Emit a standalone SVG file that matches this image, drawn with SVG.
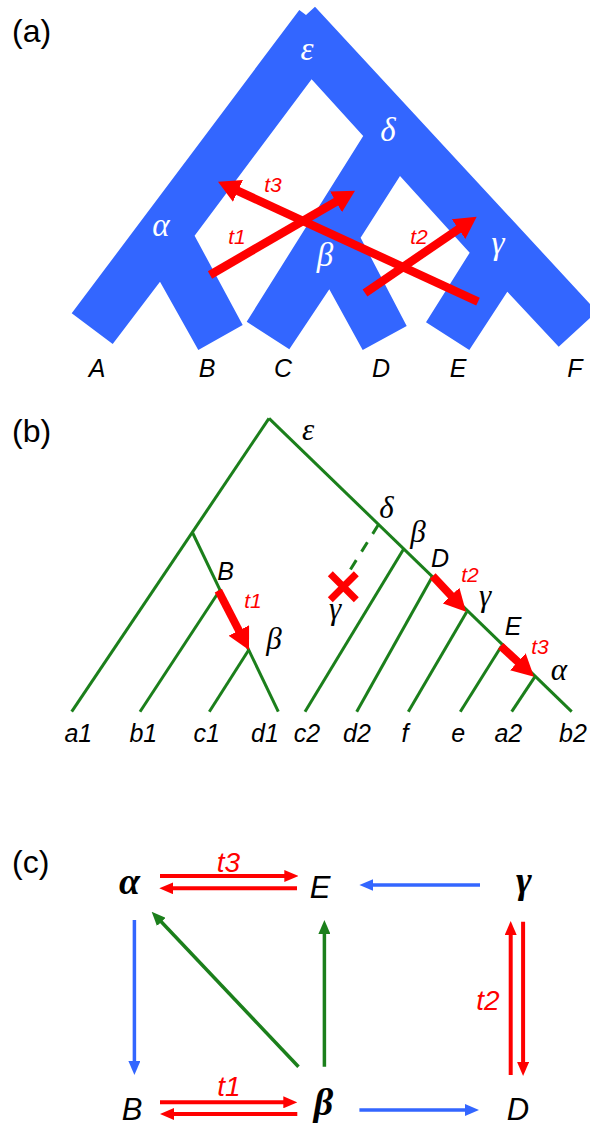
<svg xmlns="http://www.w3.org/2000/svg" width="590" height="1125" viewBox="0 0 590 1125">
<defs>
<marker id="hA" markerUnits="userSpaceOnUse" markerWidth="22" markerHeight="24" refX="2" refY="12" orient="auto"><path d="M0,0 L22,12 L0,24 z" fill="#ff0000"/></marker>
<marker id="hB" markerUnits="userSpaceOnUse" markerWidth="22" markerHeight="23" refX="2" refY="11.5" orient="auto"><path d="M0,0 L22,11.5 L0,23 z" fill="#ff0000"/></marker>
<marker id="hR" markerUnits="userSpaceOnUse" markerWidth="14" markerHeight="12" refX="7" refY="6" orient="auto"><path d="M0,0 L14,6 L0,12 z" fill="#ff0000"/></marker>
<marker id="hBl" markerUnits="userSpaceOnUse" markerWidth="14" markerHeight="12" refX="7" refY="6" orient="auto"><path d="M0,0 L14,6 L0,12 z" fill="#3366ff"/></marker>
<marker id="hG" markerUnits="userSpaceOnUse" markerWidth="14" markerHeight="12" refX="7" refY="6" orient="auto"><path d="M0,0 L14,6 L0,12 z" fill="#1b7f1b"/></marker>
</defs>
<style>
.panel{font-family:"Liberation Sans",Arial,sans-serif;font-size:32px;fill:#000}
.leaf{font-family:"Liberation Sans",Arial,sans-serif;font-style:italic;font-size:25px;fill:#000;text-anchor:middle}
.gw{font-family:"Liberation Serif","Times New Roman",serif;font-style:italic;font-size:33px;fill:#fff;text-anchor:middle}
.gk{font-family:"Liberation Serif","Times New Roman",serif;font-style:italic;font-size:31px;fill:#000;text-anchor:middle}
.gc{font-family:"Liberation Serif","Times New Roman",serif;font-style:italic;font-weight:bold;font-size:38px;fill:#000;text-anchor:middle}
.lc{font-family:"Liberation Sans",Arial,sans-serif;font-style:italic;font-size:31px;fill:#000;text-anchor:middle}
.tr{font-family:"Liberation Sans",Arial,sans-serif;font-style:italic;fill:#ff0000;text-anchor:middle}
.ra{stroke:#ff0000;stroke-width:8.5;fill:none}
.rb{stroke:#ff0000;stroke-width:8;fill:none}
.br{stroke:#1b7f1b;stroke-width:3;fill:none}
.cr{stroke:#ff0000;stroke-width:4;fill:none;marker-end:url(#hR)}
.cb{stroke:#3366ff;stroke-width:3.5;fill:none;marker-end:url(#hBl)}
.cg{stroke:#1b7f1b;stroke-width:3.5;fill:none;marker-end:url(#hG)}
</style>
<rect width="590" height="1125" fill="#ffffff"/>

<!-- Panel (a) -->
<text class="panel" x="12" y="42">(a)</text>
<g id="a-tree">
<polygon fill="#3366ff" points="299.3,10 306,15 315,6.7 597,311.5 558.7,346.7 507.3,291.7 469.3,350 426,322.3 469.7,252.7 400,176 360.6,237.7 406.7,326 362.7,350 329.3,289.3 289.3,349.3 246.7,321.7 363.2,136 311.6,79.3 194.6,235.7 242.7,325 198.3,350 160,281.7 112.7,344 71.7,313.3"/>
</g>
<g id="a-nodes">
<g id="a-eps"><text class="gw" x="307" y="60" font-size="38">ε</text></g>
<g id="a-delta"><text class="gw" x="388" y="141">δ</text></g>
<g id="a-alpha"><text class="gw" x="161" y="236">α</text></g>
<g id="a-beta"><text class="gw" x="325" y="266">β</text></g>
<g id="a-gamma"><text class="gw" x="498" y="254">γ</text></g>
<g id="a-A"><text class="leaf" x="97" y="377">A</text></g>
<g id="a-B"><text class="leaf" x="207" y="377">B</text></g>
<g id="a-C"><text class="leaf" x="283" y="377">C</text></g>
<g id="a-D"><text class="leaf" x="381" y="377">D</text></g>
<g id="a-E"><text class="leaf" x="458" y="377">E</text></g>
<g id="a-F"><text class="leaf" x="575" y="377">F</text></g>
</g>
<g id="a-connectors">
<line class="ra" x1="210" y1="275" x2="337.7" y2="200.76" marker-end="url(#hA)"/>
<line class="ra" x1="478" y1="301.7" x2="236.16" y2="190.08" marker-end="url(#hA)"/>
<line class="ra" x1="365" y1="293" x2="460.18" y2="227.98" marker-end="url(#hA)"/>
<text class="tr" x="237" y="244" font-size="21">t1</text>
<text class="tr" x="419" y="244" font-size="21">t2</text>
<text class="tr" x="273" y="192" font-size="21">t3</text>
</g>

<!-- Panel (b) -->
<text class="panel" x="12" y="441.5">(b)</text>
<g id="b-connectors">
<line class="br" x1="269" y1="418.3" x2="71.7" y2="711.7"/>
<line class="br" x1="269" y1="418.3" x2="571.7" y2="711.7"/>
<line class="br" x1="192.7" y1="533" x2="278.3" y2="711.7"/>
<line class="br" x1="219.5" y1="590.7" x2="140" y2="711.7"/>
<line class="br" x1="248.7" y1="650" x2="209.3" y2="711.7"/>
<line class="br" x1="403.5" y1="549.3" x2="305" y2="711.7"/>
<line class="br" x1="432.7" y1="576" x2="356.7" y2="711.7"/>
<line class="br" x1="466.8" y1="611.7" x2="408.3" y2="711.7"/>
<line class="br" x1="501.5" y1="646" x2="460.3" y2="711.7"/>
<line class="br" x1="535" y1="676.7" x2="511.7" y2="711.7"/>
<line class="br" x1="378.5" y1="524.5" x2="347" y2="575" stroke-dasharray="11 10"/>
<line class="rb" x1="218.3" y1="590.7" x2="239.8" y2="632.24" marker-end="url(#hB)"/>
<line class="rb" x1="432.7" y1="576" x2="452.36" y2="597.08" marker-end="url(#hB)"/>
<line class="rb" x1="500.7" y1="646" x2="519.3" y2="663.14" marker-end="url(#hB)"/>
<text class="tr" x="253" y="607.5" font-size="21">t1</text>
<text class="tr" x="470" y="582" font-size="21">t2</text>
<text class="tr" x="540" y="653.5" font-size="21">t3</text>
</g>
<g id="b-nodes">
<g id="b-eps"><text class="gk" x="308" y="440" font-size="34">ε</text></g>
<g id="b-delta"><text class="gk" x="386.5" y="518">δ</text></g>
<g id="b-beta2"><text class="gk" x="418" y="542">β</text></g>
<g id="b-D"><text class="leaf" x="440" y="566.5">D</text></g>
<g id="b-gamma2"><text class="gk" x="485" y="606">γ</text></g>
<g id="b-E"><text class="leaf" x="513" y="635">E</text></g>
<g id="b-alpha"><text class="gk" x="559" y="680" font-size="24">α</text></g>
<g id="b-B"><text class="leaf" x="225.5" y="580">B</text></g>
<g id="b-beta1"><text class="gk" x="274" y="649" font-size="27">β</text></g>
<g id="b-lost">
<path d="M330.3,573.7 L356.3,599.7 M356.3,573.7 L330.3,599.7" stroke="#ff0000" stroke-width="7" fill="none"/>
<text class="gk" x="335" y="619" font-size="27">γ</text>
</g>
<g id="b-a1"><text class="leaf" x="78.3" y="741.7">a1</text></g>
<g id="b-b1"><text class="leaf" x="143.3" y="741.7">b1</text></g>
<g id="b-c1"><text class="leaf" x="206.7" y="741.7">c1</text></g>
<g id="b-d1"><text class="leaf" x="265" y="741.7">d1</text></g>
<g id="b-c2"><text class="leaf" x="307" y="741.7">c2</text></g>
<g id="b-d2"><text class="leaf" x="357" y="741.7">d2</text></g>
<g id="b-f"><text class="leaf" x="405" y="741.7">f</text></g>
<g id="b-e"><text class="leaf" x="458.3" y="741.7">e</text></g>
<g id="b-a2"><text class="leaf" x="508.3" y="741.7">a2</text></g>
<g id="b-b2"><text class="leaf" x="573" y="741.7">b2</text></g>
</g>

<!-- Panel (c) -->
<text class="panel" x="12" y="873">(c)</text>
<g id="c-nodes">
<g id="c-alpha"><text class="gc" x="129.5" y="894">α</text></g>
<g id="c-E"><text class="lc" x="320" y="898">E</text></g>
<g id="c-gamma"><text class="gc" x="524" y="893">γ</text></g>
<g id="c-B"><text class="lc" x="132" y="1120">B</text></g>
<g id="c-beta"><text class="gc" x="323.5" y="1115">β</text></g>
<g id="c-D"><text class="lc" x="518" y="1120">D</text></g>
</g>
<g id="c-connectors">
<line class="cr" x1="160" y1="876" x2="291.3" y2="876"/>
<line class="cr" x1="297" y1="888.3" x2="166.3" y2="888.3"/>
<line class="cb" x1="480" y1="885" x2="366.4" y2="885"/>
<line class="cb" x1="134.4" y1="920" x2="134.4" y2="1068"/>
<line class="cg" x1="298.5" y1="1066.7" x2="156.5" y2="916.8"/>
<line class="cg" x1="324.4" y1="1066.7" x2="324.4" y2="927"/>
<line class="cr" x1="160" y1="1102.3" x2="290.3" y2="1102.3"/>
<line class="cr" x1="297.3" y1="1114" x2="167" y2="1114"/>
<line class="cb" x1="359.4" y1="1110" x2="472" y2="1110"/>
<line class="cr" x1="510.7" y1="1075" x2="510.7" y2="928"/>
<line class="cr" x1="523.1" y1="921.7" x2="523.1" y2="1069"/>
<text class="tr" x="228.5" y="871.5" font-size="28">t3</text>
<text class="tr" x="229" y="1096" font-size="28">t1</text>
<text class="tr" x="488" y="1010" font-size="28">t2</text>
</g>
</svg>
